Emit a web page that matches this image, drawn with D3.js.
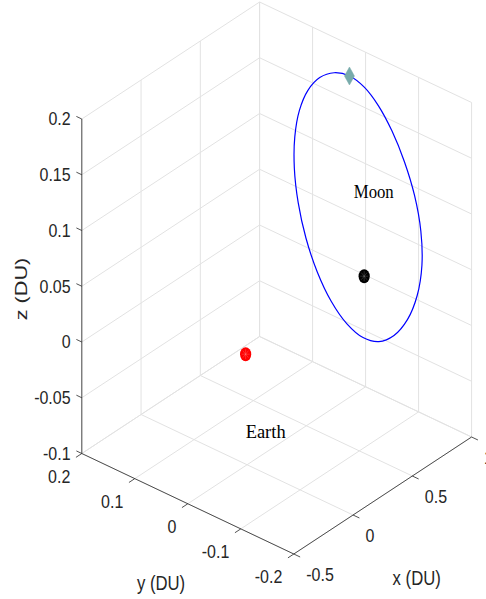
<!DOCTYPE html>
<html>
<head>
<meta charset="utf-8">
<script src="https://cdn.jsdelivr.net/npm/d3@7"></script>
<style>
  html, body { margin: 0; padding: 0; background: #ffffff; }
  svg { display: block; }
</style>
</head>
<body>
<svg id="chart" width="486" height="599"></svg>
<script>
// Axis limits and ticks (canonical units, DU)
const xDomain = [-0.5, 1];
const yDomain = [-0.2, 0.2];
const zDomain = [-0.1, 0.2];
const xTicks = [-0.5, 0, 0.5, 1];
const yTicks = [-0.2, -0.1, 0, 0.1, 0.2];
const zTicks = [-0.1, -0.05, 0, 0.05, 0.1, 0.15, 0.2];
const xTickLabels = ["-0.5", "0", "0.5", "1"];
const yTickLabels = ["-0.2", "-0.1", "0", "0.1", "0.2"];
const zTickLabels = ["-0.1", "-0.05", "0", "0.05", "0.1", "0.15", "0.2"];

// Periodic orbit in the rotating frame, first point = initial state
const orbitX = [1.12, 1.13, 1.14, 1.15, 1.15, 1.15, 1.14, 1.13, 1.12, 1.11, 1.10, 1.09,
                1.08, 1.07, 1.06, 1.06, 1.06, 1.06, 1.07, 1.08, 1.09, 1.10, 1.11, 1.12];
const orbitY = [0.0573, 0.0316, 0.0070, -0.0163, -0.0397, -0.0589, -0.0729, -0.0772,
                -0.0705, -0.0543, -0.0312, -0.0049, 0.0228, 0.0513, 0.0786, 0.1048,
                0.1260, 0.1406, 0.1501, 0.1515, 0.1450, 0.1312, 0.1111, 0.0862];
const orbitZ = [0.1574, 0.1525, 0.1406, 0.1225, 0.1003, 0.0741, 0.0463, 0.0173,
                -0.0107, -0.0353, -0.0540, -0.0647, -0.0666, -0.0598, -0.0450, -0.0246,
                0.0008, 0.0292, 0.0573, 0.0844, 0.1089, 0.1293, 0.1446, 0.1538];

// Primaries (Earth at -mu, Moon at 1-mu)
const bodyNames = ["Earth", "Moon"];
const bodyX = [-0.01215, 0.98785];
const bodyY = [0, 0];
const bodyZ = [0, 0];

// Text annotations
const noteText = ["Earth", "Moon"];
const noteX = [-0.01215, 0.9];
const noteY = [0, 0];
const noteZ = [-0.069, 0.082];

// ---- projection of the 3-D box onto the page ----
const sx = d3.scaleLinear().domain(xDomain).range([0, 1]);
const sy = d3.scaleLinear().domain(yDomain).range([0, 1]);
const sz = d3.scaleLinear().domain(zDomain).range([0, 1]);
const corner = [293.8, 554];          // (xmin, ymin, zmin)
const vX = [177.8, -117];             // full x span
const vY = [-212, -100.5];            // full y span
const vZ = [0, -334.5];               // full z span
function proj(x, y, z) {
  const a = sx(x), b = sy(y), c = sz(z);
  return [corner[0] + a * vX[0] + b * vY[0] + c * vZ[0],
          corner[1] + a * vX[1] + b * vY[1] + c * vZ[1]];
}

const svg = d3.select("#chart");
const gridColor = "#e2e2e2";
const axisColor = "#262626";
const [x0, x1] = xDomain, [y0, y1] = yDomain, [z0, z1] = zDomain;

// ---- grid on the three back planes ----
const gridSegs = [];
// floor z = zmin
xTicks.forEach(t => gridSegs.push([[t, y0, z0], [t, y1, z0]]));
yTicks.forEach(t => gridSegs.push([[x0, t, z0], [x1, t, z0]]));
// back wall y = ymax
xTicks.forEach(t => gridSegs.push([[t, y1, z0], [t, y1, z1]]));
zTicks.forEach(t => gridSegs.push([[x0, y1, t], [x1, y1, t]]));
// back wall x = xmax
yTicks.forEach(t => gridSegs.push([[x1, t, z0], [x1, t, z1]]));
zTicks.forEach(t => gridSegs.push([[x1, y0, t], [x1, y1, t]]));

svg.append("g").selectAll("line").data(gridSegs).join("line")
  .attr("x1", d => proj(...d[0])[0]).attr("y1", d => proj(...d[0])[1])
  .attr("x2", d => proj(...d[1])[0]).attr("y2", d => proj(...d[1])[1])
  .attr("stroke", gridColor).attr("stroke-width", 1);

// ---- axis lines ----
const axisSegs = [
  [[x0, y0, z0], [x1, y0, z0]],   // x axis
  [[x0, y0, z0], [x0, y1, z0]],   // y axis
  [[x0, y1, z0], [x0, y1, z1]]    // z axis
];
const gAxes = svg.append("g");
gAxes.selectAll("line.axis").data(axisSegs).join("line").attr("class", "axis")
  .attr("x1", d => proj(...d[0])[0]).attr("y1", d => proj(...d[0])[1])
  .attr("x2", d => proj(...d[1])[0]).attr("y2", d => proj(...d[1])[1])
  .attr("stroke", axisColor).attr("stroke-width", 0.8);

// tick marks
const tickLen = 7;
function unit(v) { const n = Math.hypot(v[0], v[1]); return [v[0] / n, v[1] / n]; }
const dirNegY = unit([-vY[0], -vY[1]]);
const dirNegX = unit([-vX[0], -vX[1]]);
const dirPosY = unit(vY);
const tickSegs = [];
xTicks.forEach(t => { const p = proj(t, y0, z0); tickSegs.push([p, dirNegY, tickLen]); });
yTicks.forEach(t => { const p = proj(x0, t, z0); tickSegs.push([p, dirNegX, tickLen]); });
zTicks.forEach(t => { const p = proj(x0, y1, t); tickSegs.push([p, dirPosY, 6]); });
gAxes.selectAll("line.tick").data(tickSegs).join("line").attr("class", "tick")
  .attr("x1", d => d[0][0]).attr("y1", d => d[0][1])
  .attr("x2", d => d[0][0] + d[1][0] * d[2]).attr("y2", d => d[0][1] + d[1][1] * d[2])
  .attr("stroke", axisColor).attr("stroke-width", 0.8);

// ---- text helpers ----
const sans = "'Liberation Sans', Arial, Helvetica, sans-serif";
function label(g, x, y, str, opts) {
  const o = Object.assign({ anchor: "middle", size: 16, ky: 1.12, rot: 0, color: axisColor }, opts);
  const t = g.append("g")
    .attr("transform", `translate(${x},${y}) scale(1,${o.ky}) rotate(${o.rot})`)
    .append("text")
    .attr("text-anchor", o.anchor).attr("dy", "0.35em")
    .attr("font-family", o.family || sans).attr("font-size", o.size)
    .attr("fill", o.color).text(str);
  if (o.textLength) t.attr("textLength", o.textLength).attr("lengthAdjust", "spacingAndGlyphs");
  return t;
}

const gText = svg.append("g");
zTicks.forEach((t, i) => {
  const p = proj(x0, y1, t);
  label(gText, p[0] - 11.2, p[1], zTickLabels[i], { anchor: "end" });
});
yTicks.forEach((t, i) => {
  const p = proj(x0, t, z0);
  label(gText, p[0] - 11.5, p[1] + 23, yTickLabels[i], { anchor: "end" });
});
xTicks.forEach((t, i) => {
  const p = proj(t, y0, z0);
  label(gText, p[0] + 12.5, p[1] + 20.5, xTickLabels[i], { anchor: "start" });
});

label(gText, 416.7, 578, "x (DU)", { size: 16.7, ky: 1.25 });
label(gText, 161, 583, "y (DU)", { size: 16.7, ky: 1.25 });
label(gText, 21, 289, "z (DU)", { size: 16.7, ky: 1.3, rot: -90 });

// ---- orbit ----
const orbitPts = orbitX.map((x, i) => proj(x, orbitY[i], orbitZ[i]));
svg.append("path")
  .attr("d", d3.line().curve(d3.curveCatmullRomClosed.alpha(0.5))(orbitPts))
  .attr("fill", "none").attr("stroke", "#0000ff").attr("stroke-width", 1.2);

// ---- primaries ----
const bodyColors = ["#ff0000", "#000000"];
const gBodies = svg.append("g");
bodyNames.forEach((n, i) => {
  const p = proj(bodyX[i], bodyY[i], bodyZ[i]);
  const g = gBodies.append("g").attr("transform", `translate(${p[0]},${p[1]})`);
  g.append("ellipse").attr("rx", 5.6).attr("ry", 7).attr("fill", bodyColors[i]);
  // faint mesh edges converging at the pole
  [0, 45, 90, 135].forEach(a => {
    const r = a * Math.PI / 180;
    g.append("line")
      .attr("x1", -4 * Math.cos(r)).attr("y1", -5 * Math.sin(r))
      .attr("x2", 4 * Math.cos(r)).attr("y2", 5 * Math.sin(r))
      .attr("stroke", "rgba(255,255,255,0.28)").attr("stroke-width", 0.6);
  });
});

// ---- initial state marker ----
const p0 = proj(orbitX[0], orbitY[0], orbitZ[0]);
svg.append("path")
  .attr("d", `M${p0[0]},${p0[1] - 9}L${p0[0] + 5},${p0[1]}L${p0[0]},${p0[1] + 9}L${p0[0] - 5},${p0[1]}Z`)
  .attr("fill", "#78abab").attr("stroke", "#78abab").attr("stroke-width", 0.5);

// ---- annotations ----
const serif = "'Liberation Serif', 'Times New Roman', serif";
noteText.forEach((s, i) => {
  const p = proj(noteX[i], noteY[i], noteZ[i]);
  label(svg, p[0], p[1], s, { anchor: "start", size: 16.5, ky: 1.15, family: serif,
                              color: "#000000", textLength: 40 });
});
</script>
</body>
</html>
